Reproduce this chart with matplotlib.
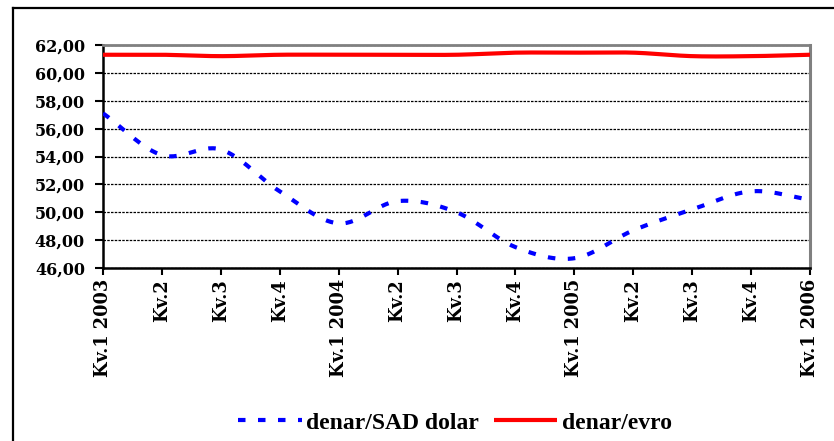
import numpy as np
import matplotlib
matplotlib.use("Agg")
import matplotlib.pyplot as plt
from matplotlib.lines import Line2D
from matplotlib.ticker import FuncFormatter

# Quarterly exchange rates of the denar
quarters = ["Kv.1 2003", "Kv.2", "Kv.3", "Kv.4",
            "Kv.1 2004", "Kv.2", "Kv.3", "Kv.4",
            "Kv.1 2005", "Kv.2", "Kv.3", "Kv.4",
            "Kv.1 2006"]
usd_rate = [57.1, 54.1, 54.5, 51.5, 49.2, 50.8, 50.0, 47.5, 46.7, 48.7, 50.2, 51.5, 50.9]
eur_rate = [61.30, 61.30, 61.20, 61.30, 61.30, 61.30, 61.30, 61.45, 61.45, 61.45, 61.20, 61.20, 61.30]
usd_label = "denar/SAD dolar"
eur_label = "denar/evro"
y_ticks = [46, 48, 50, 52, 54, 56, 58, 60, 62]


def smooth(xs, ys, n=30):
    """Catmull-Rom curve through the points (spreadsheet-style smoothed line)."""
    xs = np.asarray(xs, float)
    ys = np.asarray(ys, float)
    px = np.concatenate([[2 * xs[0] - xs[1]], xs, [2 * xs[-1] - xs[-2]]])
    py = np.concatenate([[2 * ys[0] - ys[1]], ys, [2 * ys[-1] - ys[-2]]])
    ox, oy = [], []
    t = np.linspace(0, 1, n, endpoint=False)
    for i in range(1, len(px) - 2):
        for arr, out in ((px, ox), (py, oy)):
            p0, p1, p2, p3 = arr[i - 1], arr[i], arr[i + 1], arr[i + 2]
            c1 = p1 + (p2 - p0) / 6.0
            c2 = p2 - (p3 - p1) / 6.0
            out.extend((1 - t) ** 3 * p1 + 3 * (1 - t) ** 2 * t * c1
                       + 3 * (1 - t) * t ** 2 * c2 + t ** 3 * p2)
    ox.append(xs[-1])
    oy.append(ys[-1])
    return np.array(ox), np.array(oy)


fig = plt.figure(figsize=(8.34, 4.41), dpi=100)
ax = fig.add_axes([103 / 834, 1 - 268 / 441, (810 - 103) / 834, (268 - 45) / 441])

x = np.arange(len(quarters))
sx, sy = smooth(x, usd_rate)
ax.plot(sx, sy, color="#0000ff", lw=3.0, linestyle=(0, (1.8, 3.0)),
        label=usd_label, zorder=3)
ex, ey = smooth(x, eur_rate)
ax.plot(ex, ey, color="#ff0000", lw=3.0, solid_capstyle="butt",
        label=eur_label, zorder=3)

ax.set_xlim(0, len(quarters) - 1)
ax.set_ylim(46, 62)
ax.set_yticks(y_ticks)
ax.yaxis.set_major_formatter(FuncFormatter(lambda v, p: f"{v:.2f}".replace(".", ",")))
ax.set_xticks(x)
ax.set_xticklabels(quarters, rotation=90, va="top", ha="center")

for lab in ax.get_yticklabels():
    lab.set_fontfamily("DejaVu Serif")
    lab.set_fontweight("bold")
    lab.set_fontsize(11.5)
for lab in ax.get_xticklabels():
    lab.set_fontfamily("DejaVu Serif")
    lab.set_fontweight("bold")
    lab.set_fontsize(12.8)

ax.tick_params(axis="y", direction="out", length=6, width=1.5, pad=7, colors="black")
ax.tick_params(axis="x", direction="out", length=5, width=1.5, pad=3, colors="black")

ax.grid(axis="y", color="black", linestyle=(0, (2, 1)), linewidth=0.9, zorder=1)
ax.set_axisbelow(True)

for side in ("left", "bottom"):
    ax.spines[side].set_color("black")
    ax.spines[side].set_linewidth(1.8)
ax.spines["right"].set_color("#808080")
ax.spines["right"].set_linewidth(2.2)
ax.spines["top"].set_color("#808080")
ax.spines["top"].set_linewidth(2.0)

# Outer chart frame (left and top edges fall inside the image)
fig.add_artist(Line2D([13 / 834, 13 / 834], [-0.1, 1 - 8 / 441],
                      transform=fig.transFigure, color="black", lw=1.6))
fig.add_artist(Line2D([13 / 834, 1.1], [1 - 8 / 441, 1 - 8 / 441],
                      transform=fig.transFigure, color="black", lw=1.6))

leg = fig.legend(loc="center", bbox_to_anchor=(455 / 834, 1 - 423 / 441), ncol=2,
                 frameon=False, handlelength=2.7, handletextpad=0.2,
                 columnspacing=0.6,
                 prop=dict(family="Liberation Serif", weight="bold", size=17))

fig.savefig("out.png", dpi=100)
